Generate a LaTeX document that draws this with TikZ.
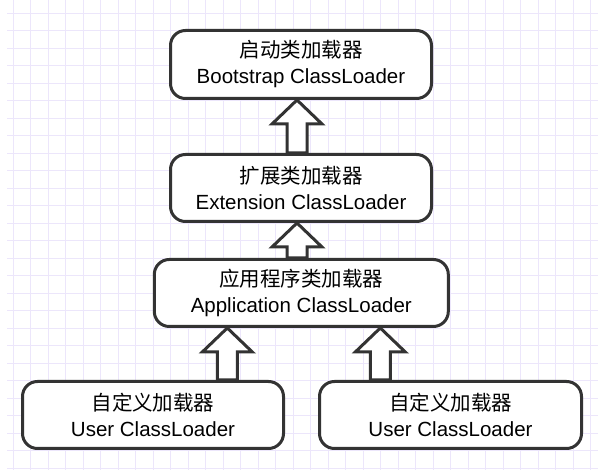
\documentclass[tikz,border=0pt]{standalone}
\usepackage{fontspec}
\setmainfont{Liberation Sans}
\newfontfamily\cjk{Noto Sans CJK SC}
\usetikzlibrary{calc}
\definecolor{gridcol}{HTML}{ECE6FB}
\definecolor{edgecol}{HTML}{333333}
\tikzset{
	loader/.style={draw=edgecol, line width=3pt, rounded corners=15pt, fill=white, align=center, inner sep=0pt, font=\fontsize{20.5}{26}\selectfont},
	hollow/.style={draw=edgecol, line width=3pt, fill=white, line join=miter},
	gridline/.style={gridcol, line width=1pt},
}
% #1 foot of the arrow, #2 its tip
\newcommand{\hollowarrow}[2]{%
	\draw[hollow] (#2) -- ($(#2)+(25,24)$) -- ($(#2)+(10,24)$) -- ($(#1)+(10,0)$) -- ($(#1)+(-10,0)$) -- ($(#2)+(-10,24)$) -- ($(#2)+(-25,24)$) -- cycle;
}
\begin{document}
\begin{tikzpicture}[x=1pt,y=-1pt]
		\useasboundingbox (0,0) rectangle (598,470);
		\fill[white] (0,0) rectangle (598,470);
		\foreach \g in {0,...,33} \draw[gridline] ({13.3+17.5*\g},0) -- ++(0,470);
		\foreach \g in {0,...,26} \draw[gridline] (7,{13.3+17.5*\g}) -- (598,{13.3+17.5*\g});
		
		\node[loader, minimum width=261pt, minimum height=68pt] (boot) at (301,64.5) {{\cjk 启动类加载器}\\Bootstrap ClassLoader};
		\node[loader, minimum width=261pt, minimum height=67pt] (ext) at (301,188) {{\cjk 扩展类加载器}\\Extension ClassLoader};
		\node[loader, minimum width=294pt, minimum height=67pt] (app) at (301.3,293) {{\cjk 应用程序类加载器}\\Application ClassLoader};
		\node[loader, minimum width=261pt, minimum height=67pt] (user1) at (153,415) {{\cjk 自定义加载器}\\User ClassLoader};
		\node[loader, minimum width=262pt, minimum height=67pt] (user2) at (450.5,415) {{\cjk 自定义加载器}\\User ClassLoader};
		
		\path (boot.south) ++(-4,0) coordinate (tipA)
		(ext.south) ++(-4,0) coordinate (tipB)
		(app.south) ++(-74,0) coordinate (tipC)
		(app.south) ++(79,0) coordinate (tipD);
		\coordinate (footA) at (ext.north -| tipA);
		\coordinate (footB) at (app.north -| tipB);
		\coordinate (footC) at (user1.north -| tipC);
		\coordinate (footD) at (user2.north -| tipD);
		\hollowarrow{footA}{tipA}
		\hollowarrow{footB}{tipB}
		\hollowarrow{footC}{tipC}
		\hollowarrow{footD}{tipD}
	\end{tikzpicture}
\end{document}
